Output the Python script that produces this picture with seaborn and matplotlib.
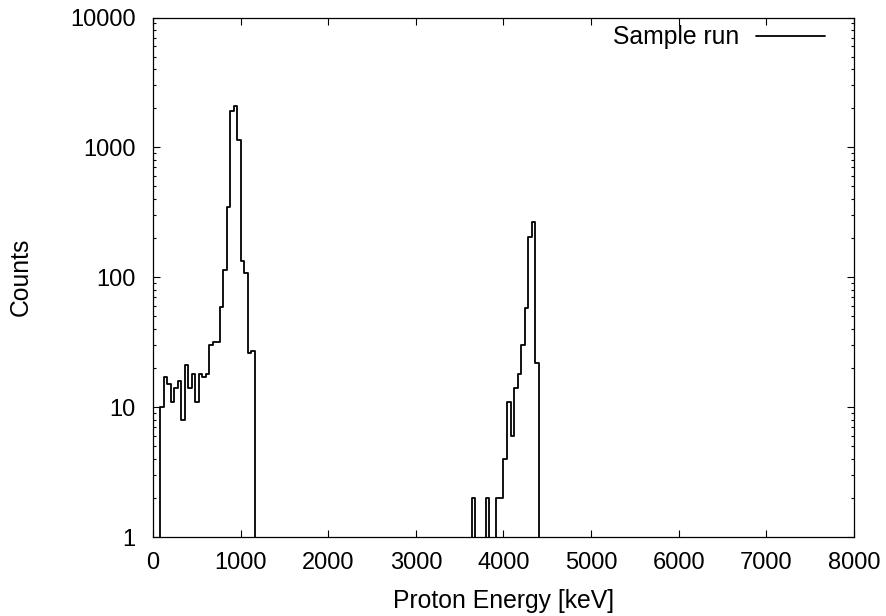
import numpy as np
import pandas as pd
import matplotlib
matplotlib.use("Agg")
import matplotlib.pyplot as plt
import seaborn as sns
from matplotlib.ticker import FixedLocator, FixedFormatter, NullLocator

# ---- data (lower edge of each 40 keV bin, and counts) ----
energy_lo = [80, 120, 160, 200, 240, 280, 320, 360, 400, 440, 480, 520, 560,
             600, 640, 680, 720, 760, 800, 840, 880, 920, 960, 1000, 1040,
             1080, 1120,
             3640, 3800, 3920, 3960, 4000, 4040, 4080, 4120, 4160, 4200, 4240,
             4280, 4320, 4360]
counts = [10, 17, 15, 11, 14, 16, 8, 21, 14, 18, 11, 18, 17,
          18, 30, 32, 32, 59, 114, 345, 1900, 2100, 1140, 134, 107,
          26, 27,
          2, 2, 2, 2, 4, 11, 6, 14, 18, 30, 58,
          203, 265, 22]
bin_width = 40
series_label = "Sample run"
x_ticks = [0, 1000, 2000, 3000, 4000, 5000, 6000, 7000, 8000]
y_ticks = [1, 10, 100, 1000, 10000]
y_tick_labels = ["1", "10", "100", "1000", "10000"]

df = pd.DataFrame({"energy": [e + bin_width / 2 for e in energy_lo],
                   "counts": counts})

sns.set_style("white")
plt.rcParams["font.family"] = ["Liberation Sans", "DejaVu Sans"]
plt.rcParams["font.size"] = 17
plt.rcParams["text.color"] = "black"
plt.rcParams["axes.labelcolor"] = "black"
plt.rcParams["xtick.color"] = "black"
plt.rcParams["ytick.color"] = "black"

fig = plt.figure(figsize=(8.87, 6.16), dpi=100)
ax = fig.add_axes([153 / 887, 79 / 616, 701 / 887, 519.5 / 616])

sns.histplot(data=df, x="energy", weights="counts",
             binwidth=bin_width, binrange=(0, 8000),
             element="step", fill=False, color="black", linewidth=1.3,
             label=series_label, ax=ax)

ax.set_yscale("log")
ax.set_xlim(0, 8000)
ax.set_ylim(1, 10000)

ax.xaxis.set_major_locator(FixedLocator(x_ticks))
ax.xaxis.set_minor_locator(NullLocator())
ax.yaxis.set_major_locator(FixedLocator(y_ticks))
ax.yaxis.set_major_formatter(FixedFormatter(y_tick_labels))

for s in ax.spines.values():
    s.set_linewidth(0.9)
    s.set_color("black")

ax.tick_params(which="both", direction="in", top=True, right=True,
               left=True, bottom=True, color="black", width=0.8)
ax.tick_params(which="major", length=5, labelsize=17, labelcolor="black")
ax.tick_params(which="minor", length=2.5)
ax.tick_params(axis="y", which="major", pad=12.5)
ax.tick_params(axis="x", which="major", pad=11)

ax.set_xlabel("Proton Energy [keV]", fontsize=17.8, color="black")
ax.set_ylabel("Counts", fontsize=17.8, color="black")
ax.xaxis.set_label_coords(0.5, -0.1)
ax.yaxis.set_label_coords(-0.172, 0.5)

leg = ax.legend(loc="upper right", bbox_to_anchor=(0.9586, 0.985),
                frameon=False, markerfirst=False, handlelength=2.8,
                handletextpad=0.65, borderaxespad=0, borderpad=0,
                fontsize=17.8)
for t in leg.get_texts():
    t.set_color("black")

fig.savefig("out.png", dpi=100)
